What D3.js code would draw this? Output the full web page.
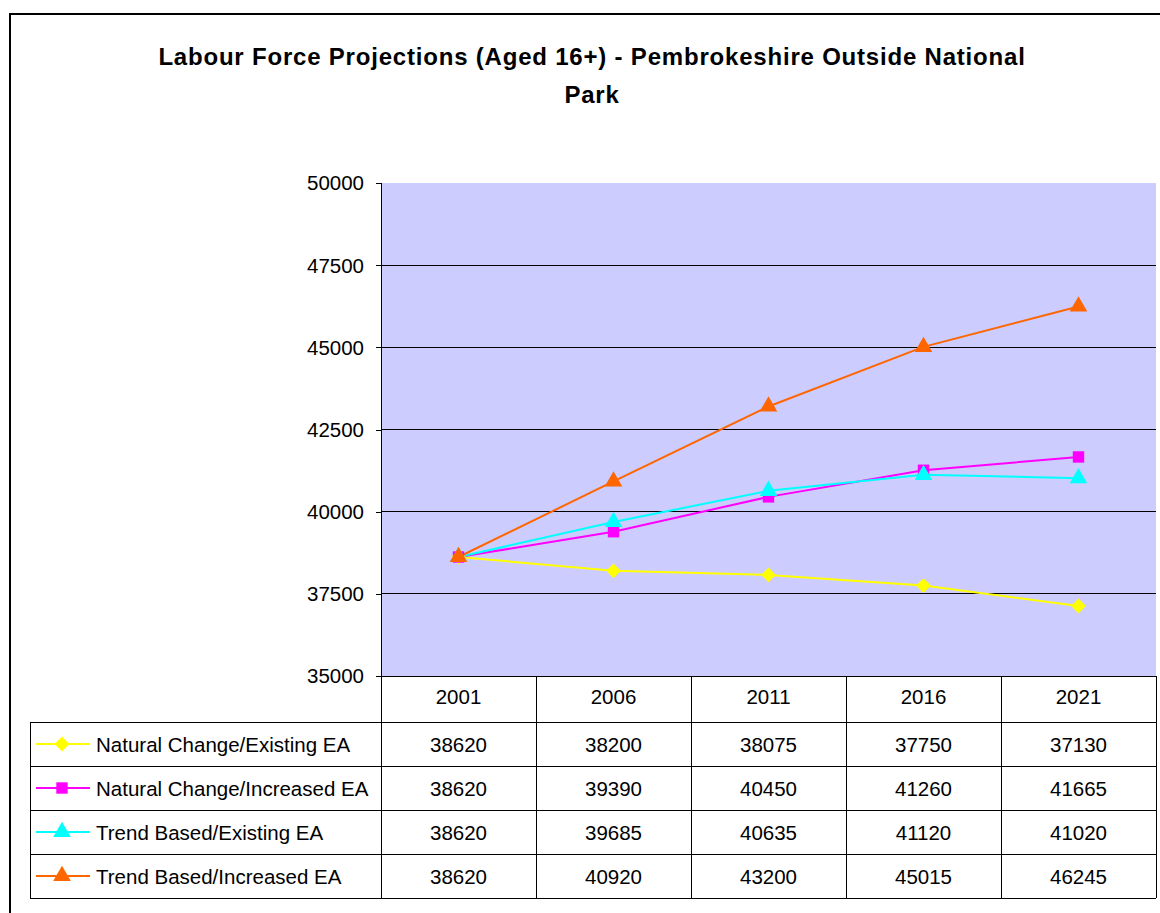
<!DOCTYPE html>
<html>
<head>
<meta charset="utf-8">
<script src="https://cdn.jsdelivr.net/npm/d3@7"></script>
<style>
  body { margin: 0; background: #fff; }
  svg { display: block; font-family: "Liberation Sans", Arial, sans-serif; }
</style>
</head>
<body>
<div id="chart"></div>
<script>
// Chart data
const years = ["2001", "2006", "2011", "2016", "2021"];
const seriesNames = [
    "Natural Change/Existing EA",
    "Natural Change/Increased EA",
    "Trend Based/Existing EA",
    "Trend Based/Increased EA"
];
const naturalExisting = [38620, 38200, 38075, 37750, 37130];
const naturalIncreased = [38620, 39390, 40450, 41260, 41665];
const trendExisting = [38620, 39685, 40635, 41120, 41020];
const trendIncreased = [38620, 40920, 43200, 45015, 46245];
const yTicks = [35000, 37500, 40000, 42500, 45000, 47500, 50000];

const seriesColors = ["#FFFF00", "#FF00FF", "#00FFFF", "#FF6600"];

// marker generators (diamond is a square turned 45 degrees)
const markers = [
    { gen: d3.symbol().type(d3.symbolSquare).size(110), rot: 45 },
    { gen: d3.symbol().type(d3.symbolSquare).size(130), rot: 0 },
    { gen: d3.symbol().type(d3.symbolTriangle).size(135), rot: 0 },
    { gen: d3.symbol().type(d3.symbolTriangle).size(135), rot: 0 }
];

const series = seriesNames.map((name, i) => ({
    name,
    values: [naturalExisting, naturalIncreased, trendExisting, trendIncreased][i],
    color: seriesColors[i],
    marker: markers[i]
}));

const width = 1160;
const height = 913;
const fontSize = 20.5;

// plot area
const plotLeft = 381, plotRight = 1156, plotTop = 183, plotBottom = 676;
const rowH = 44;
const headerBottom = 722;
const legendLeft = 30;

const svg = d3.select("#chart").append("svg")
    .attr("width", width)
    .attr("height", height);

// outer frame
svg.append("rect")
    .attr("x", 10).attr("y", 14)
    .attr("width", 1170).attr("height", 920)
    .attr("fill", "none")
    .attr("stroke", "#000")
    .attr("stroke-width", 2);

// title
const title = svg.append("text")
    .attr("text-anchor", "middle")
    .attr("font-weight", "bold")
    .attr("font-size", 24)
    .attr("letter-spacing", "0.8px")
    .attr("fill", "#000");
title.append("tspan").attr("x", 592).attr("y", 65)
    .text("Labour Force Projections (Aged 16+) - Pembrokeshire Outside National");
title.append("tspan").attr("x", 592).attr("y", 103).text("Park");

const x = d3.scaleBand().domain(years).range([plotLeft, plotRight]);
const y = d3.scaleLinear().domain([35000, 50000]).range([plotBottom, plotTop]);
const cx = d => x(d) + x.bandwidth() / 2;

// plot background
svg.append("rect")
    .attr("x", plotLeft).attr("y", plotTop)
    .attr("width", plotRight - plotLeft).attr("height", plotBottom - plotTop)
    .attr("fill", "#CCCCFF");

// gridlines
svg.append("g")
    .selectAll("line")
    .data(yTicks.filter(t => t > 35000 && t < 50000))
    .join("line")
    .attr("x1", plotLeft).attr("x2", plotRight)
    .attr("y1", d => y(d)).attr("y2", d => y(d))
    .attr("stroke", "#000")
    .attr("stroke-width", 1)
    .attr("shape-rendering", "crispEdges");

// y axis
const yAxis = svg.append("g")
    .attr("transform", `translate(${plotLeft},0)`)
    .call(d3.axisLeft(y).tickValues(yTicks).tickSize(5).tickPadding(12).tickFormat(d3.format("d")));
yAxis.select(".domain").attr("stroke", "#000").attr("shape-rendering", "crispEdges");
yAxis.selectAll(".tick line").attr("stroke", "#000").attr("shape-rendering", "crispEdges");
yAxis.selectAll(".tick text")
    .attr("font-size", fontSize)
    .attr("font-family", "'Liberation Sans', Arial, sans-serif")
    .attr("dy", "0.34em")
    .attr("fill", "#000");

// lines
const line = d3.line()
    .x((d, i) => cx(years[i]))
    .y(d => y(d));

svg.append("g")
    .selectAll("path")
    .data(series)
    .join("path")
    .attr("d", d => line(d.values))
    .attr("fill", "none")
    .attr("stroke", d => d.color)
    .attr("stroke-width", 2);

// markers
series.forEach(s => {
    svg.append("g")
        .selectAll("path")
        .data(s.values)
        .join("path")
        .attr("transform", (d, i) => `translate(${cx(years[i])},${y(d)}) rotate(${s.marker.rot})`)
        .attr("d", s.marker.gen())
        .attr("fill", s.color);
});

// data table
const table = svg.append("g")
    .attr("stroke", "#000")
    .attr("stroke-width", 1)
    .attr("shape-rendering", "crispEdges");

const tableBottom = headerBottom + rowH * series.length;

table.append("line")
    .attr("x1", plotLeft).attr("x2", plotRight)
    .attr("y1", plotBottom).attr("y2", plotBottom);
d3.range(series.length + 1).forEach(i => {
    table.append("line")
        .attr("x1", legendLeft).attr("x2", plotRight)
        .attr("y1", headerBottom + i * rowH).attr("y2", headerBottom + i * rowH);
});
years.forEach(yr => {
    table.append("line")
        .attr("x1", x(yr)).attr("x2", x(yr))
        .attr("y1", plotBottom).attr("y2", tableBottom);
});
table.append("line")
    .attr("x1", plotRight).attr("x2", plotRight)
    .attr("y1", plotBottom).attr("y2", tableBottom);
table.append("line")
    .attr("x1", legendLeft).attr("x2", legendLeft)
    .attr("y1", headerBottom).attr("y2", tableBottom);

// header row
svg.append("g")
    .selectAll("text")
    .data(years)
    .join("text")
    .attr("x", d => cx(d))
    .attr("y", 704)
    .attr("text-anchor", "middle")
    .attr("font-size", fontSize)
    .text(d => d);

// rows
series.forEach((s, r) => {
    const cy = headerBottom + r * rowH + rowH / 2;
    const row = svg.append("g");
    row.append("line")
        .attr("x1", 36).attr("x2", 90)
        .attr("y1", cy).attr("y2", cy)
        .attr("stroke", s.color)
        .attr("stroke-width", 2);
    row.append("path")
        .attr("transform", `translate(62,${cy}) rotate(${s.marker.rot})`)
        .attr("d", s.marker.gen())
        .attr("fill", s.color);
    row.append("text")
        .attr("x", 96).attr("y", cy + 8)
        .attr("font-size", fontSize)
        .text(s.name);
    row.selectAll(".val")
        .data(s.values)
        .join("text")
        .attr("class", "val")
        .attr("x", (d, i) => cx(years[i]))
        .attr("y", cy + 8)
        .attr("text-anchor", "middle")
        .attr("font-size", fontSize)
        .text(d => d);
});
</script>
</body>
</html>
